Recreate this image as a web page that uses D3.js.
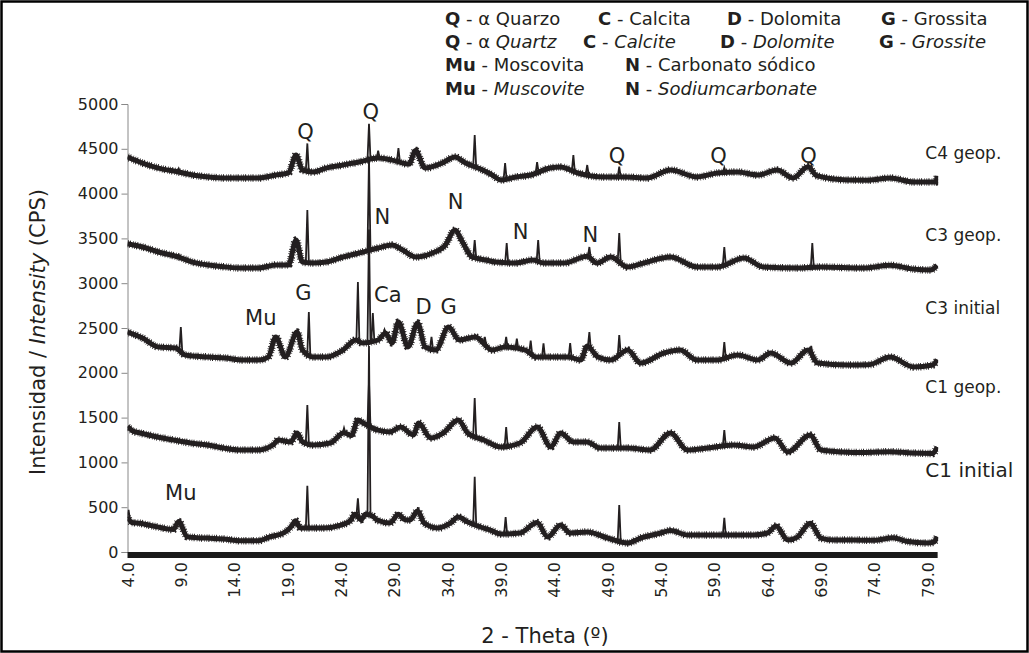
<!DOCTYPE html>
<html><head><meta charset="utf-8">
<script src="https://cdn.jsdelivr.net/npm/d3@7"></script>
<style>
html,body{margin:0;padding:0;background:#fff;}
svg text{font-family:"DejaVu Sans",Verdana,sans-serif;fill:#231f20;}
</style></head>
<body><svg id="c" width="1029" height="653"></svg>
<script>
// ---------- DATA ----------
const xTicks = [4,9,14,19,24,29,34,39,44,49,54,59,64,69,74,79];
const yTicks = [0,500,1000,1500,2000,2500,3000,3500,4000,4500,5000];

// baseline (background + broad humps) of each pattern: [2theta, CPS]
const c1InitialBase = [[4,390],[4.4,330],[5.2,320],[6,300],[6.8,280],[7.6,260],[8.3,250],[8.8,340],[9.6,170],[10.5,160],[11.5,155],[13,145],[14.6,125],[16.2,125],[17.4,170],[18.6,210],[19.4,290],[19.75,350],[20.2,268],[21.2,268],[22.4,268],[24,300],[24.9,350],[25.3,420],[25.9,360],[26.3,420],[27,400],[27.4,357],[28.6,324],[29.4,420],[30,360],[30.5,357],[31.2,460],[31.8,324],[33.1,268],[34.3,324],[35,390],[35.9,335],[37.1,279],[38,245],[39,200],[40.8,212],[42.4,330],[43.4,167],[44.6,300],[45.5,212],[47.1,223],[49,156],[50.9,100],[52.1,156],[54,212],[54.9,240],[56.5,190],[58.4,190],[60.8,190],[62.7,190],[64,212],[64.8,290],[65.9,134],[66.8,167],[68,320],[69,156],[70.2,134],[72,134],[74,130],[75.8,160],[77,120],[79,100],[79.6,110],[79.9,170]];
const c1InitialPeaks = [[4.1,470],[20.86,740],[25.6,600],[26.64,2300],[36.55,840],[39.45,390],[50.1,525],[59.95,380],[68.15,335]];

const c1GeopBase = [[4,1400],[4.5,1350],[5.2,1328],[6.8,1284],[8.3,1250],[9.9,1216],[11.5,1194],[13,1160],[14.6,1138],[16.2,1138],[17.7,1200],[18.1,1250],[19.3,1228],[19.9,1328],[20.4,1230],[21.4,1194],[23,1216],[24.3,1330],[25,1300],[25.6,1473],[26.1,1440],[27.4,1362],[28.6,1340],[29.6,1395],[30.8,1306],[31.3,1440],[32.4,1273],[33.6,1328],[35,1473],[35.9,1328],[37.4,1250],[39,1172],[40.8,1216],[42.4,1395],[43.7,1172],[44.6,1328],[45.8,1228],[47.1,1228],[48.3,1160],[50.9,1160],[53,1138],[54.9,1328],[56.5,1138],[58.4,1160],[60.8,1194],[62.7,1172],[64.7,1273],[65.9,1116],[68,1306],[69,1138],[71,1116],[73,1110],[75.5,1120],[77.5,1105],[79.5,1100],[79.9,1172]];
const c1GeopPeaks = [[20.86,1640],[24.3,1384],[26.64,1900],[36.55,1718],[39.5,1395],[42.45,1395],[50.1,1451],[59.95,1362],[68.15,1306]];

const c3InitialBase = [[4,2455],[5.4,2388],[6.9,2288],[8.5,2277],[9.4,2199],[11.6,2176],[13.2,2165],[14.8,2143],[16.3,2143],[17.2,2176],[17.9,2399],[18.8,2176],[19.9,2455],[20.4,2254],[21.4,2176],[22.6,2176],[24.2,2254],[25.4,2366],[26,2332],[27.5,2366],[28.2,2444],[28.8,2332],[29.4,2567],[30.3,2288],[31.2,2556],[31.9,2288],[32.9,2254],[34.1,2511],[35.1,2366],[36.6,2399],[38.2,2254],[39.4,2288],[41.3,2254],[42.3,2176],[43.4,2176],[45.3,2176],[46.5,2143],[47.1,2300],[48.1,2176],[49.3,2143],[50.9,2254],[52.1,2109],[54.3,2221],[55.8,2254],[57.4,2143],[59.3,2143],[61.2,2199],[63.1,2143],[64.3,2221],[66.2,2109],[67.8,2254],[68.7,2109],[71.5,2087],[73.5,2090],[75.5,2176],[77.7,2065],[79.5,2087],[79.9,2150]];
const c3InitialPeaks = [[9.0,2511],[21.0,2678],[25.6,3013],[26.64,3600],[27.0,2667],[28.1,2480],[29.4,2567],[30.0,2400],[31.2,2556],[32.5,2400],[36.6,2420],[37.5,2400],[39.5,2400],[40.5,2380],[41.8,2360],[43.0,2330],[45.5,2332],[47.3,2455],[50.1,2422],[59.95,2344],[68.1,2300]];

const c3GeopBase = [[4,3440],[5.4,3404],[6.9,3348],[8.8,3292],[10.1,3236],[11.6,3203],[13.2,3181],[14.8,3169],[16.3,3169],[17.9,3203],[19.1,3203],[19.8,3482],[20.4,3236],[21.4,3225],[22.6,3236],[24.2,3292],[25.7,3337],[27.5,3393],[28.8,3426],[29.8,3370],[31,3292],[32.6,3337],[33.8,3426],[34.7,3593],[35.4,3460],[36.3,3292],[37.6,3259],[38.5,3236],[40.4,3225],[42,3259],[43,3225],[44.9,3225],[47.1,3300],[48,3225],[49.3,3292],[50.9,3181],[52.4,3225],[54.9,3292],[57.4,3181],[59.3,3181],[61.8,3281],[63.6,3181],[66.8,3169],[69,3181],[73,3169],[75.5,3200],[77.5,3160],[79.3,3147],[79.9,3200]];
const c3GeopPeaks = [[8.8,3320],[20.86,3817],[26.64,4400],[36.55,3482],[39.55,3448],[42.5,3482],[47.3,3404],[50.1,3560],[59.95,3404],[68.2,3448]];

const c4GeopBase = [[4,4408],[5.4,4341],[6.9,4285],[8.8,4241],[10.1,4207],[11.6,4185],[13.2,4174],[14.8,4174],[16.3,4174],[17.9,4207],[19.1,4230],[19.8,4431],[20.4,4263],[21.4,4241],[22.6,4285],[24.2,4319],[25.7,4352],[27.5,4397],[28.8,4374],[30.4,4330],[31,4480],[31.9,4285],[33.5,4341],[34.7,4408],[35.7,4341],[37.3,4263],[38.2,4207],[39,4152],[40.4,4185],[41.8,4207],[43.6,4285],[44.6,4297],[46.2,4230],[48.6,4185],[50.6,4185],[52.7,4174],[54.9,4263],[57.4,4185],[59.3,4230],[61.2,4241],[63.1,4207],[64.9,4263],[66.4,4174],[67.8,4300],[68.6,4200],[71.5,4152],[73.5,4150],[75.5,4174],[77.7,4129],[79.8,4129],[79.9,4200]];
const c4GeopPeaks = [[8.8,4280],[20.86,4560],[26.64,4780],[27.5,4480],[29.4,4509],[31.1,4520],[36.55,4654],[39.4,4341],[42.4,4352],[45.8,4431],[47.1,4319],[50.1,4300],[59.95,4290],[68.1,4310]];

const seriesNames = ["C4 geop.","C3 geop.","C3 initial","C1 geop.","C1 initial"];
const seriesLabelPos = [[78.8,4450],[78.8,3540],[78.8,2723],[78.8,1841],[78.8,915]];
const seriesLabelSize = [17,17,17,17,20];

// phase labels: [text, 2theta, CPS]
const phaseLabels = [["Q",20.7,4690],["Q",26.8,4910],["N",27.9,3739],["N",34.75,3906],["N",40.85,3571],["N",47.4,3538],["Q",49.9,4420],["Q",59.4,4420],["Q",67.85,4420],["G",20.5,2890],["Ca",28.4,2868],["D",31.75,2734],["G",34.1,2734],["Mu",16.5,2611],["Mu",9.0,658]];

const legendLines = [
  [["Q"," - α Quarzo"],["C"," - Calcita"],["D"," - Dolomita"],["G"," - Grossita"]],
  [["Q"," - α ","Quartz"],["C"," - ","Calcite"],["D"," - ","Dolomite"],["G"," - ","Grossite"]],
  [["Mu"," - Moscovita"],["N"," - Carbonato sódico"]],
  [["Mu"," - ","Muscovite"],["N"," - ","Sodiumcarbonate"]]
];

// ---------- DRAW ----------
const svg = d3.select("#c");
const W=1029,H=653;
svg.append("rect").attr("x",1.5).attr("y",1.5).attr("width",W-3).attr("height",H-3)
  .attr("fill","#fff").attr("stroke","#000").attr("stroke-width",2.5);

const x = d3.scaleLinear().domain([4,79]).range([127.5,927.5]);
const y = d3.scaleLinear().domain([0,5000]).range([552,104]);

svg.append("defs").append("clipPath").attr("id","pc").append("rect")
  .attr("x",x(4)).attr("y",y(5000)).attr("width",x(80)-x(4)).attr("height",y(0)-y(5000));

// y axis
const ya = svg.append("g").attr("transform",`translate(${x(4)},0)`)
  .call(d3.axisLeft(y).tickValues(yTicks).tickSize(6).tickPadding(3).tickFormat(d3.format("d")));
ya.select(".domain").attr("stroke","#888");
ya.selectAll(".tick line").attr("stroke","#888");
ya.selectAll("text").attr("font-size",16).attr("fill","#231f20");

// x axis bar + labels
svg.append("rect").attr("x",x(4)).attr("y",y(0)).attr("width",x(79.95)-x(4)).attr("height",6).attr("fill","#1a1a1a");
const xa = svg.append("g").attr("transform",`translate(0,${y(0)+6})`)
  .call(d3.axisBottom(x).tickValues(xTicks).tickSize(0).tickFormat(d3.format(".1f")));
xa.select(".domain").remove();
xa.selectAll("text").attr("font-size",16).attr("transform","rotate(-90)")
  .attr("text-anchor","end").attr("dy","0.35em").attr("x",-4).attr("y",0);

// axis titles
svg.append("text").attr("transform","translate(38,332) rotate(-90)").attr("text-anchor","middle")
  .attr("dy","0.35em").attr("font-size",21).html('Intensidad / <tspan font-style="italic">Intensity</tspan> (CPS)');
svg.append("text").attr("x",545).attr("y",643).attr("text-anchor","middle").attr("font-size",21).text("2 - Theta (º)");

// traces
const plot = svg.append("g").attr("clip-path","url(#pc)");
const line = d3.line().x(d=>x(d[0])).y(d=>y(d[1]));
const smooth = d3.line().x(d=>x(d[0])).y(d=>y(d[1])).curve(d3.curveMonotoneX);
function baseAt(b,t){
  const i = d3.bisector(d=>d[0]).left(b,t);
  if(i<=0) return b[0][1];
  if(i>=b.length) return b[b.length-1][1];
  const a=b[i-1], c=b[i], f=(t-a[0])/(c[0]-a[0]);
  return a[1]+(c[1]-a[1])*f;
}
const allSeries = [[c4GeopBase,c4GeopPeaks],[c3GeopBase,c3GeopPeaks],[c3InitialBase,c3InitialPeaks],[c1GeopBase,c1GeopPeaks],[c1InitialBase,c1InitialPeaks]];
const ink = "#231f20";
allSeries.forEach(([base,peaks])=>{
  plot.append("path").attr("d",smooth(base)).attr("fill","none").attr("stroke",ink)
    .attr("stroke-width",5).attr("stroke-linejoin","round");
  plot.append("path").attr("d",smooth(base)).attr("fill","none").attr("stroke",ink)
    .attr("stroke-width",7.5).attr("stroke-dasharray","0.7 1.3 1 2.2 0.6 1.6");
  const hw=0.14;
  peaks.forEach(p=>{
    const pts=[[p[0]-hw,baseAt(base,p[0]-hw)],[p[0],p[1]],[p[0]+hw,baseAt(base,p[0]+hw)]];
    plot.append("path").attr("d",line(pts)).attr("fill","none").attr("stroke",ink)
      .attr("stroke-width",1.8).attr("stroke-linejoin","miter");
  });
});

// phase labels
phaseLabels.forEach(([t,a,b])=>{
  svg.append("text").attr("x",x(a)).attr("y",y(b)).attr("text-anchor","middle")
    .attr("dy","0.35em").attr("font-size",21).text(t);
});
// series labels
seriesNames.forEach((n,i)=>{
  svg.append("text").attr("x",x(seriesLabelPos[i][0])).attr("y",y(seriesLabelPos[i][1]))
    .attr("dy","0.35em").attr("font-size",seriesLabelSize[i]).text(n);
});

// legend
const segX = [[445,598,727,881],[445,583,720,879],[445,625],[445,625]];
const lineY = [25,48,71,95];
legendLines.forEach((ln,i)=>{
  ln.forEach((s,j)=>{
    const t = svg.append("text").attr("x",segX[i][j]).attr("y",lineY[i]).attr("font-size",18);
    t.append("tspan").attr("font-weight","bold").text(s[0]);
    t.append("tspan").text(s[1]);
    if(s[2]) t.append("tspan").attr("font-style","italic").text(s[2]);
  });
});
</script></body></html>
